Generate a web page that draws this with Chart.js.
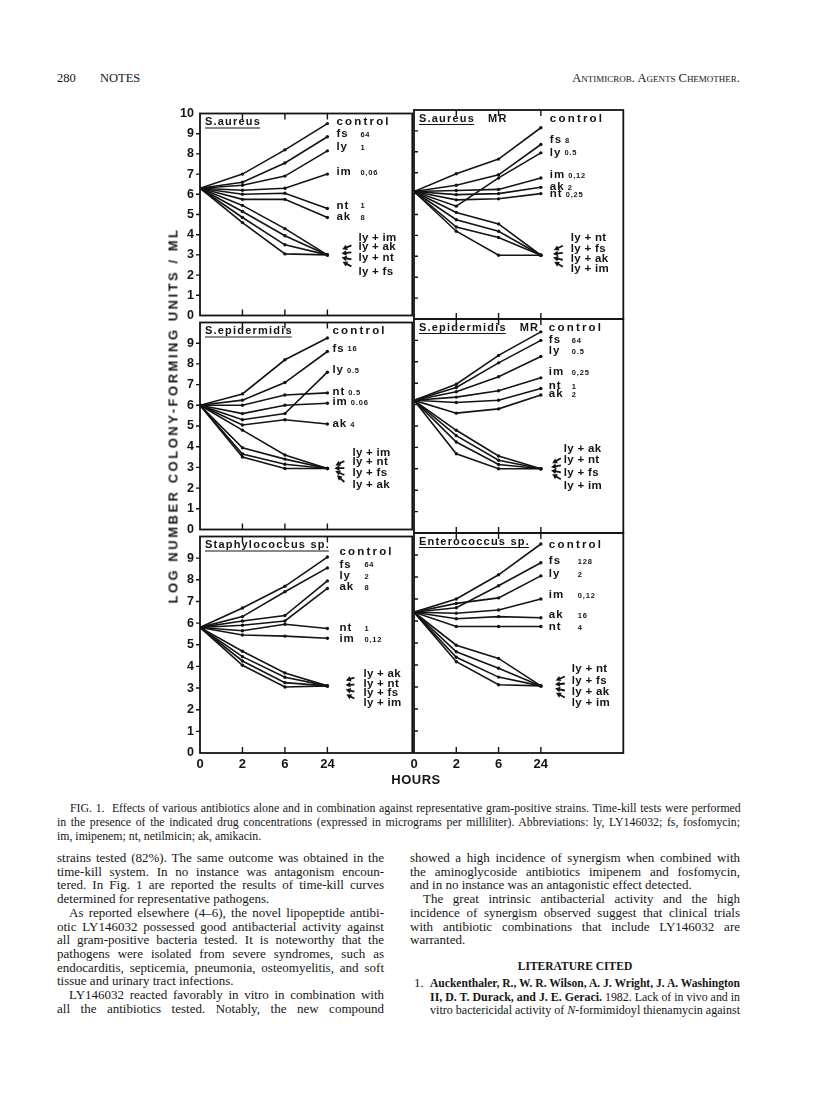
<!DOCTYPE html>
<html><head><meta charset="utf-8">
<script src="https://cdn.jsdelivr.net/npm/chart.js@4.4.1/dist/chart.umd.min.js"></script>
<style>
html,body{margin:0;padding:0;background:#fff;}
#page{position:relative;width:816px;height:1093px;overflow:hidden;background:#fff;color:#161616;font-family:"Liberation Serif","Times New Roman",serif;}
canvas{position:absolute;}
.ln{position:absolute;white-space:nowrap;transform-origin:0 50%;}
.body{font-size:13px;line-height:14px;}
.cap{font-size:11.8px;line-height:13px;}
.sans{font-family:"Liberation Sans",Arial,Helvetica,sans-serif;font-weight:bold;position:absolute;white-space:nowrap;}
</style></head><body><div id="page"></div>
<script>
// ---------------- DATA ----------------
const hours = ['0', '2', '6', '24'];

// S. aureus
const saureusNames = ['control', 'fs', 'ly', 'im', 'nt', 'ak'];
const saureusConc = ['', '64', '1', '0,06', '1', '8'];
const saureusSingle = [[6.3, 7.0, 8.2, 9.5], [6.3, 6.6, 7.55, 8.85], [6.3, 6.45, 6.9, 8.15], [6.3, 6.2, 6.3, 7.0], [6.3, 6.0, 6.05, 5.3], [6.3, 5.75, 5.75, 4.85]];
const saureusComboNames = ['ly + im', 'ly + ak', 'ly + nt', 'ly + fs'];
const saureusCombo = [[6.3, 5.45, 4.3, 3.0], [6.3, 5.15, 3.95, 3.0], [6.3, 4.85, 3.5, 3.0], [6.3, 4.6, 3.05, 3.0]];

// S. aureus MR
const saureusMRNames = ['control', 'fs', 'ly', 'im', 'ak', 'nt'];
const saureusMRConc = ['', '8', '0.5', '0,12', '2', '0,25'];
const saureusMRSingle = [[6.1, 6.95, 7.65, 9.15], [6.1, 6.4, 6.9, 8.35], [6.1, 5.4, 6.75, 7.95], [6.1, 6.15, 6.2, 6.75], [6.1, 5.95, 6.0, 6.3], [6.1, 5.7, 5.75, 6.0]];
const saureusMRComboNames = ['ly + nt', 'ly + fs', 'ly + ak', 'ly + im'];
const saureusMRCombo = [[6.1, 5.1, 4.55, 3.05], [6.1, 4.75, 4.2, 3.05], [6.1, 4.4, 3.9, 3.05], [6.1, 4.2, 3.05, 3.05]];

// S. epidermidis
const sepiNames = ['control', 'fs', 'ly', 'nt', 'im', 'ak'];
const sepiConc = ['', '16', '0.5', '0.5', '0.06', '4'];
const sepiSingle = [[6.0, 6.55, 8.2, 9.25], [6.0, 6.25, 7.1, 8.6], [6.0, 5.3, 5.6, 7.6], [6.0, 6.0, 6.5, 6.6], [6.0, 5.6, 6.0, 6.1], [6.0, 5.05, 5.3, 5.1]];
const sepiComboNames = ['ly + im', 'ly + nt', 'ly + fs', 'ly + ak'];
const sepiCombo = [[6.0, 4.8, 3.6, 2.95], [6.0, 3.95, 3.4, 2.95], [6.0, 3.65, 3.15, 2.95], [6.0, 3.5, 2.95, 2.95]];

// S. epidermidis MR
const sepiMRNames = ['control', 'fs', 'ly', 'im', 'nt', 'ak'];
const sepiMRConc = ['', '64', '0.5', '0,25', '1', '2'];
const sepiMRSingle = [[6.2, 6.95, 8.3, 9.4], [6.2, 6.8, 7.95, 9.0], [6.2, 6.6, 7.3, 8.25], [6.2, 6.35, 6.65, 7.25], [6.2, 6.1, 6.2, 6.75], [6.2, 5.6, 5.8, 6.45]];
const sepiMRComboNames = ['ly + ak', 'ly + nt', 'ly + fs', 'ly + im'];
const sepiMRCombo = [[6.2, 4.8, 3.6, 3.0], [6.2, 4.55, 3.4, 3.0], [6.2, 4.25, 3.2, 3.0], [6.2, 3.7, 3.0, 3.0]];

// Staphylococcus sp.
const staphNames = ['control', 'fs', 'ly', 'ak', 'nt', 'im'];
const staphConc = ['', '64', '2', '8', '1', '0,12'];
const staphSingle = [[5.8, 6.7, 7.7, 9.05], [5.8, 6.3, 7.45, 8.55], [5.8, 6.1, 6.35, 7.95], [5.8, 5.9, 6.1, 7.6], [5.8, 5.65, 5.95, 5.75], [5.8, 5.45, 5.4, 5.3]];
const staphComboNames = ['ly + ak', 'ly + nt', 'ly + fs', 'ly + im'];
const staphCombo = [[5.8, 4.7, 3.7, 3.1], [5.8, 4.45, 3.5, 3.1], [5.8, 4.25, 3.25, 3.1], [5.8, 4.05, 3.05, 3.1]];

// Enterococcus sp.
const enteroNames = ['control', 'fs', 'ly', 'im', 'ak', 'nt'];
const enteroConc = ['', '128', '2', '0,12', '16', '4'];
const enteroSingle = [[6.4, 7.0, 8.1, 9.5], [6.4, 6.6, 7.6, 8.65], [6.4, 6.8, 7.05, 8.05], [6.4, 6.35, 6.5, 7.0], [6.4, 6.1, 6.2, 6.15], [6.4, 5.75, 5.75, 5.75]];
const enteroComboNames = ['ly + nt', 'ly + fs', 'ly + ak', 'ly + im'];
const enteroCombo = [[6.4, 4.9, 4.3, 3.05], [6.4, 4.6, 3.85, 3.05], [6.4, 4.35, 3.45, 3.05], [6.4, 4.15, 3.1, 3.05]];

// --------------- PANEL LAYOUT ---------------
const INK = '#141414';
const SANS = '"Liberation Sans", Arial, Helvetica, sans-serif';
const page = document.getElementById('page');

const panels = [
  {row: 0, col: 0, title: 'S.aureus', suffix: '', names: saureusNames, conc: saureusConc, single: saureusSingle, comboNames: saureusComboNames, combo: saureusCombo,
   labelY: [9.6, 9.0, 8.33, 7.13, 5.45, 4.86], labelDx: 9, concDx: 33, comboY: [3.86, 3.38, 2.85, 2.18], comboDx: 31, arrowDx: [14, 24], arrowY: 2.95, convY: 3.0},
  {row: 0, col: 1, title: 'S.aureus', suffix: 'MR', names: saureusMRNames, conc: saureusMRConc, single: saureusMRSingle, comboNames: saureusMRComboNames, combo: saureusMRCombo,
   labelY: [9.6, 8.56, 7.97, 6.89, 6.33, 5.98], labelDx: 9, concDx: 21, comboY: [3.89, 3.38, 2.87, 2.39], comboDx: 30, arrowDx: [12, 22], arrowY: 3.0, convY: 3.05},
  {row: 1, col: 0, title: 'S.epidermidis', suffix: '', names: sepiNames, conc: sepiConc, single: sepiSingle, comboNames: sepiComboNames, combo: sepiCombo,
   labelY: [9.61, 8.75, 7.71, 6.65, 6.15, 5.12], labelDx: 5, concDx: 0, comboY: [3.69, 3.27, 2.73, 2.17], comboDx: 25, arrowDx: [7, 17], arrowY: 2.8, convY: 2.95},
  {row: 1, col: 1, title: 'S.epidermidis', suffix: 'MR', names: sepiMRNames, conc: sepiMRConc, single: sepiMRSingle, comboNames: sepiMRComboNames, combo: sepiMRCombo,
   labelY: [9.58, 9.03, 8.5, 7.52, 6.88, 6.51], labelDx: 8, concDx: 31, comboY: [3.93, 3.43, 2.8, 2.21], comboDx: 23, arrowDx: [10, 20], arrowY: 3.0, convY: 3.0},
  {row: 2, col: 0, title: 'Staphylococcus sp.', suffix: '', names: staphNames, conc: staphConc, single: staphSingle, comboNames: staphComboNames, combo: staphCombo,
   labelY: [9.3, 8.71, 8.18, 7.68, 5.79, 5.26], labelDx: 12, concDx: 37, comboY: [3.64, 3.18, 2.76, 2.3], comboDx: 36, arrowDx: [18, 27], arrowY: 3.0, convY: 3.1},
  {row: 2, col: 1, title: 'Enterococcus sp.', suffix: '', names: enteroNames, conc: enteroConc, single: enteroSingle, comboNames: enteroComboNames, combo: enteroCombo,
   labelY: [9.48, 8.73, 8.15, 7.17, 6.26, 5.73], labelDx: 8, concDx: 37, comboY: [3.83, 3.3, 2.8, 2.27], comboDx: 31, arrowDx: [14, 24], arrowY: 3.0, convY: 3.05}
];

function makeDecor(cfg) {
  return {
    id: 'decor',
    afterDraw(chart) {
      const ctx = chart.ctx, a = chart.chartArea, xs = chart.scales.x, ys = chart.scales.y;
      const isLeft = cfg.col === 0;
      ctx.save();
      ctx.strokeStyle = INK; ctx.fillStyle = INK;
      ctx.lineWidth = 1.8;
      ctx.strokeRect(a.left, a.top, a.right - a.left, a.bottom - a.top);
      ctx.lineWidth = 1.4;
      ctx.beginPath();
      [1, 2, 3].forEach(v => {
        const x = xs.getPixelForValue(v);
        ctx.moveTo(x, a.top); ctx.lineTo(x, a.top + 6);
        ctx.moveTo(x, a.bottom); ctx.lineTo(x, a.bottom - 6);
      });
      for (let v = 1; v <= 9; v++) {
        const y = ys.getPixelForValue(v);
        if (isLeft) { ctx.moveTo(a.left - 4, y); ctx.lineTo(a.left, y); }
        else { ctx.moveTo(a.left, y); ctx.lineTo(a.left + 4, y); }
      }
      ctx.stroke();

      // panel title
      ctx.textBaseline = 'middle'; ctx.textAlign = 'left';
      ctx.font = 'bold 11px ' + SANS;
      ctx.letterSpacing = '1.2px';
      const tx = a.left + 5, ty = a.top + 8.5;
      ctx.fillText(cfg.title, tx, ty);
      const tw = ctx.measureText(cfg.title).width;
      ctx.lineWidth = 1.2;
      ctx.beginPath(); ctx.moveTo(tx, ty + 6); ctx.lineTo(tx + tw - 1, ty + 6); ctx.stroke();
      if (cfg.suffix) ctx.fillText(cfg.suffix, tx + tw + 13, ty);

      // single-drug labels
      const x3 = xs.getPixelForValue(3);
      cfg.names.forEach((n, i) => {
        const y = ys.getPixelForValue(cfg.labelY[i]);
        ctx.font = 'bold 11.5px ' + SANS;
        ctx.letterSpacing = n === 'control' ? '2.2px' : '1px';
        const lx = x3 + cfg.labelDx;
        ctx.fillText(n, lx, y);
        const w = ctx.measureText(n).width;
        if (cfg.conc[i]) {
          ctx.font = 'bold 7.5px ' + SANS;
          ctx.letterSpacing = '0.8px';
          ctx.fillText(cfg.conc[i], Math.max(lx + w + 3, x3 + cfg.concDx), y + 1);
        }
      });

      // combination labels
      ctx.font = 'bold 11.5px ' + SANS;
      ctx.letterSpacing = '0.3px';
      cfg.comboNames.forEach((n, i) => {
        ctx.fillText(n, x3 + cfg.comboDx, ys.getPixelForValue(cfg.comboY[i]));
      });
      ctx.letterSpacing = '0px';

      // arrows
      const yc = ys.getPixelForValue(cfg.arrowY);
      const cx = x3 + 2, cy = ys.getPixelForValue(cfg.convY);
      const len = cfg.arrowDx[1] - cfg.arrowDx[0];
      for (let i = 0; i < 4; i++) {
        const tX = x3 + cfg.arrowDx[1], tY = yc + (i - 1.5) * 7;
        let dx = cx - tX, dy = cy - tY; const L = Math.hypot(dx, dy); dx /= L; dy /= L;
        const hx = tX + dx * len, hy = tY + dy * len;
        ctx.lineWidth = 1.8;
        ctx.beginPath(); ctx.moveTo(tX, tY); ctx.lineTo(hx - dx * 3, hy - dy * 3); ctx.stroke();
        const px = -dy, py = dx;
        ctx.beginPath();
        ctx.moveTo(hx, hy);
        ctx.lineTo(hx - dx * 5 + px * 2.8, hy - dy * 5 + py * 2.8);
        ctx.lineTo(hx - dx * 5 - px * 2.8, hy - dy * 5 - py * 2.8);
        ctx.closePath(); ctx.fill();
      }
      ctx.restore();
    }
  };
}

function makePanel(cfg) {
  const isLeft = cfg.col === 0;
  const rowTop = [110, 319, 533][cfg.row];
  const rowBottom = [319, 533, 753][cfg.row];
  const bottomRow = cfg.row === 2;
  const padTop = 10, padBottom = bottomRow ? 0 : 10, xAxisH = bottomRow ? 26 : 0;
  const yAxisW = isLeft ? 40 : 0, padLeft = isLeft ? 0 : 8;
  const areaLeft = isLeft ? 200 : 414, areaRight = isLeft ? 414 : 625;
  const cw = areaRight - areaLeft + yAxisW + padLeft;
  const ch = rowBottom - rowTop + padTop + padBottom + xAxisH;
  const canvas = document.createElement('canvas');
  canvas.width = cw; canvas.height = ch;
  canvas.style.left = (areaLeft - yAxisW - padLeft) + 'px';
  canvas.style.top = (rowTop - padTop) + 'px';
  canvas.style.width = cw + 'px'; canvas.style.height = ch + 'px';
  page.appendChild(canvas);

  const datasets = cfg.single.concat(cfg.combo).map(vals => ({
    data: vals.map((v, i) => ({x: i, y: v})),
    borderColor: INK, borderWidth: 1.6, pointRadius: 1.7, pointHoverRadius: 0,
    pointBackgroundColor: INK, pointBorderWidth: 0, fill: false, tension: 0
  }));

  new Chart(canvas, {
    type: 'line',
    data: {datasets},
    options: {
      responsive: false, maintainAspectRatio: false, animation: false, devicePixelRatio: 1,
      events: [],
      layout: {padding: {left: padLeft, right: 0, top: padTop, bottom: padBottom}},
      plugins: {legend: {display: false}, tooltip: {enabled: false}},
      scales: {
        x: {
          type: 'linear', min: 0, max: isLeft ? 5.0 : 4.95, display: bottomRow,
          grid: {display: false, drawTicks: false}, border: {display: false},
          afterBuildTicks: s => { s.ticks = hours.map((h, i) => ({value: i})); },
          afterFit: s => { s.height = xAxisH; },
          ticks: {callback: v => hours[v], font: {family: SANS, size: 13, weight: 'bold'}, color: INK, padding: 4, maxRotation: 0, autoSkip: false}
        },
        y: {
          type: 'linear', min: 0, max: 10, display: isLeft,
          grid: {display: false, drawTicks: false}, border: {display: false},
          afterFit: s => { s.width = yAxisW; },
          ticks: {stepSize: 1, autoSkip: false, callback: v => (cfg.row > 0 && v === 10) ? null : String(v),
                  font: {family: SANS, size: 12.5, weight: 'bold'}, color: INK, padding: 6}
        }
      }
    },
    plugins: [makeDecor(cfg)]
  });
}
panels.forEach(makePanel);

// --------------- PAGE TEXT ---------------
function addDiv(html, cls, left, top, style) {
  const d = document.createElement('div');
  d.className = cls; d.innerHTML = html;
  d.style.left = left + 'px'; d.style.top = top + 'px';
  if (style) Object.assign(d.style, style);
  page.appendChild(d);
  return d;
}
function addLines(lines, x, w, yc0, step, cls, lh) {
  lines.forEach((l, i) => {
    const ind = l[2] || 0;
    const d = addDiv(l[0], 'ln ' + cls, x + ind, yc0 + i * step - lh / 2);
    d.dataset.w = w - ind; d.dataset.j = l[1] ? '1' : '0';
  });
}

// header
addDiv('280', 'ln', 57, 71, {fontSize: '12.5px'});
addDiv('NOTES', 'ln', 100, 71, {fontSize: '12.5px'});
const hdr = addDiv('Antimicrob. Agents Chemother.', 'ln', 0, 71, {fontSize: '12.5px', fontVariant: 'small-caps'});

// caption
addLines([
  ['FIG. 1.&nbsp; Effects of various antibiotics alone and in combination against representative gram-positive strains. Time-kill tests were performed', 1, 13],
  ['in the presence of the indicated drug concentrations (expressed in micrograms per milliliter). Abbreviations: ly, LY146032; fs, fosfomycin;', 1],
  ['im, imipenem; nt, netilmicin; ak, amikacin.', 0]
], 57, 683, 808, 14, 'cap', 13);

// body left column
addLines([
  ['strains tested (82%). The same outcome was obtained in the', 1],
  ['time-kill system. In no instance was antagonism encoun-', 1],
  ['tered. In Fig. 1 are reported the results of time-kill curves', 1],
  ['determined for representative pathogens.', 0],
  ['As reported elsewhere (4–6), the novel lipopeptide antibi-', 1, 12],
  ['otic LY146032 possessed good antibacterial activity against', 1],
  ['all gram-positive bacteria tested. It is noteworthy that the', 1],
  ['pathogens were isolated from severe syndromes, such as', 1],
  ['endocarditis, septicemia, pneumonia, osteomyelitis, and soft', 1],
  ['tissue and urinary tract infections.', 0],
  ['LY146032 reacted favorably in vitro in combination with', 1, 12],
  ['all the antibiotics tested. Notably, the new compound', 1]
], 57, 327, 858, 13.7, 'body', 14);

// body right column
addLines([
  ['showed a high incidence of synergism when combined with', 1],
  ['the aminoglycoside antibiotics imipenem and fosfomycin,', 1],
  ['and in no instance was an antagonistic effect detected.', 0],
  ['The great intrinsic antibacterial activity and the high', 1, 13],
  ['incidence of synergism observed suggest that clinical trials', 1],
  ['with antibiotic combinations that include LY146032 are', 1],
  ['warranted.', 0]
], 410, 330, 858, 13.7, 'body', 14);

const lit = addDiv('LITERATURE CITED', 'ln', 0, 960, {fontSize: '11.5px', fontWeight: 'bold'});
addDiv('1.', 'ln body', 414, 983 - 7);
addLines([
  ['<b>Auckenthaler, R., W. R. Wilson, A. J. Wright, J. A. Washington</b>', 1],
  ['<b>II, D. T. Durack, and J. E. Geraci.</b> 1982. Lack of in vivo and in', 1],
  ['vitro bactericidal activity of <i>N</i>-formimidoyl thienamycin against', 1]
], 430, 310, 983, 13.5, 'body', 14);

// figure axis titles
const yTitle = addDiv('LOG NUMBER COLONY-FORMING UNITS / ML', 'sans', 0, 0, {fontSize: '13px'});
const hoursT = addDiv('HOURS', 'sans', 0, 0, {fontSize: '13px', letterSpacing: '0.5px'});

function layoutText() {
  document.querySelectorAll('.ln').forEach(el => {
    if (!el.dataset.w) return;
    const target = parseFloat(el.dataset.w);
    el.style.wordSpacing = '0px'; el.style.transform = '';
    const w = el.getBoundingClientRect().width;
    if (w > target) el.style.transform = 'scaleX(' + (target / w) + ')';
    else if (el.dataset.j === '1') {
      const n = (el.textContent.trim().match(/ /g) || []).length;
      if (n) el.style.wordSpacing = ((target - w) / n) + 'px';
    }
  });
  hdr.style.left = (740 - hdr.getBoundingClientRect().width) + 'px';
  lit.style.left = (575 - lit.getBoundingClientRect().width / 2) + 'px';
  const targetL = 376;
  const n = yTitle.textContent.length;
  const w0 = yTitle.getBoundingClientRect().width;
  yTitle.style.letterSpacing = ((targetL - w0) / n) + 'px';
  const w1 = yTitle.getBoundingClientRect().width, h1 = yTitle.getBoundingClientRect().height;
  yTitle.style.left = (173 - w1 / 2) + 'px';
  yTitle.style.top = (415 - h1 / 2) + 'px';
  yTitle.style.transform = 'rotate(-90deg)';
  const hw = hoursT.getBoundingClientRect().width, hh = hoursT.getBoundingClientRect().height;
  hoursT.style.left = (416 - hw / 2) + 'px';
  hoursT.style.top = (779 - hh / 2) + 'px';
}
layoutText();
</script>
</body></html>
